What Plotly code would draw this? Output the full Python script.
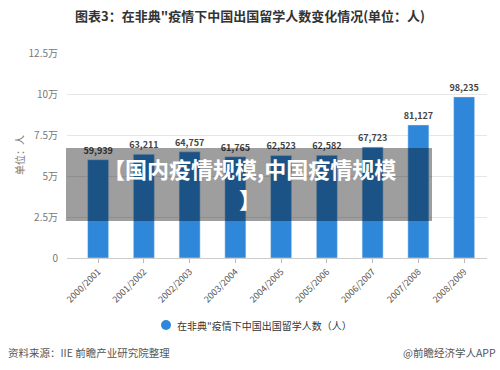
import plotly.graph_objects as go

categories = ["2000/2001", "2001/2002", "2002/2003", "2003/2004", "2004/2005",
              "2005/2006", "2006/2007", "2007/2008", "2008/2009"]
students = [59939, 63211, 64757, 61765, 62523, 62582, 67723, 81127, 98235]
y_tickvals = [0, 25000, 50000, 75000, 100000, 125000]
y_ticktext = ["0", "2.5万", "5万", "7.5万", "10万", "12.5万"]
legend_label = "在非典\"疫情下中国出国留学人数（人）"

FONT = "Noto Sans CJK SC"
BLUE = "#2e87d9"
W, H = 500, 370
L, R, T, B = 67, 13, 53, 112
PW, PH = W - L - R, H - T - B


def px(x):
    return (x - L) / PW


def py(y):
    return (H - B - y) / PH


fig = go.Figure()
fig.add_trace(go.Bar(
    x=categories, y=students, marker_color=BLUE, showlegend=False,
    text=students, texttemplate="<b>%{text:,}</b>", textposition="outside",
    textfont=dict(size=9, color="#444", family=FONT), cliponaxis=False,
    constraintext="none",
))

fig.update_layout(
    width=W, height=H, margin=dict(l=L, r=R, t=T, b=B),
    paper_bgcolor="white", plot_bgcolor="white",
    bargap=0.54, showlegend=False,
    font=dict(family=FONT, color="#555"),
    xaxis=dict(
        type="category", range=[-0.68, 8.5], tickangle=-45,
        tickfont=dict(size=9, color="#555"), ticks="outside", ticklen=4,
        tickcolor="#bbb", showline=True, linecolor="#ccc", showgrid=False,
    ),
    yaxis=dict(
        range=[0, 125000], tickvals=y_tickvals, ticktext=y_ticktext,
        tickfont=dict(size=10, color="#777"), gridcolor="#e6e6e6",
        zeroline=False, ticklen=6, ticks="outside", tickcolor="white",
    ),
    shapes=[
        dict(type="rect", xref="paper", yref="paper",
             x0=px(66), x1=px(432), y0=py(221), y1=py(148),
             fillcolor="rgba(0,0,0,0.38)", line=dict(width=0), layer="above"),
        dict(type="circle", xref="paper", yref="paper",
             x0=px(161), x1=px(171), y0=py(330), y1=py(320),
             fillcolor=BLUE, line=dict(width=0)),
    ],
)

annots = [
    dict(text="<b>图表3：在非典\"疫情下中国出国留学人数变化情况(单位：人)</b>", x=px(250), y=py(15),
         font=dict(size=13, color="#333")),
    dict(text="单位：人", x=px(19), y=py(155), textangle=-90, font=dict(size=10, color="#777")),
    dict(text="<b>【国内疫情规模,中国疫情规模</b>", x=px(249), y=py(168),
         font=dict(size=22, color="white")),
    dict(text="<b>】</b>", x=px(250), y=py(198), font=dict(size=22, color="white")),
    dict(text=legend_label, x=px(175), y=py(325), xanchor="left",
         font=dict(size=10, color="#333")),
    dict(text="资料来源：IIE 前瞻产业研究院整理", x=px(6), y=py(352), xanchor="left",
         font=dict(size=10.5, color="#555")),
    dict(text="@前瞻经济学人APP", x=px(498), y=py(352), xanchor="right",
         font=dict(size=10.5, color="#555")),
]
for a in annots:
    a.setdefault("xanchor", "center")
    fig.add_annotation(xref="paper", yref="paper", showarrow=False, yanchor="middle", **a)

fig.write_html("out.html", config={"displayModeBar": False},
               post_script="document.body.style.margin='0';")
